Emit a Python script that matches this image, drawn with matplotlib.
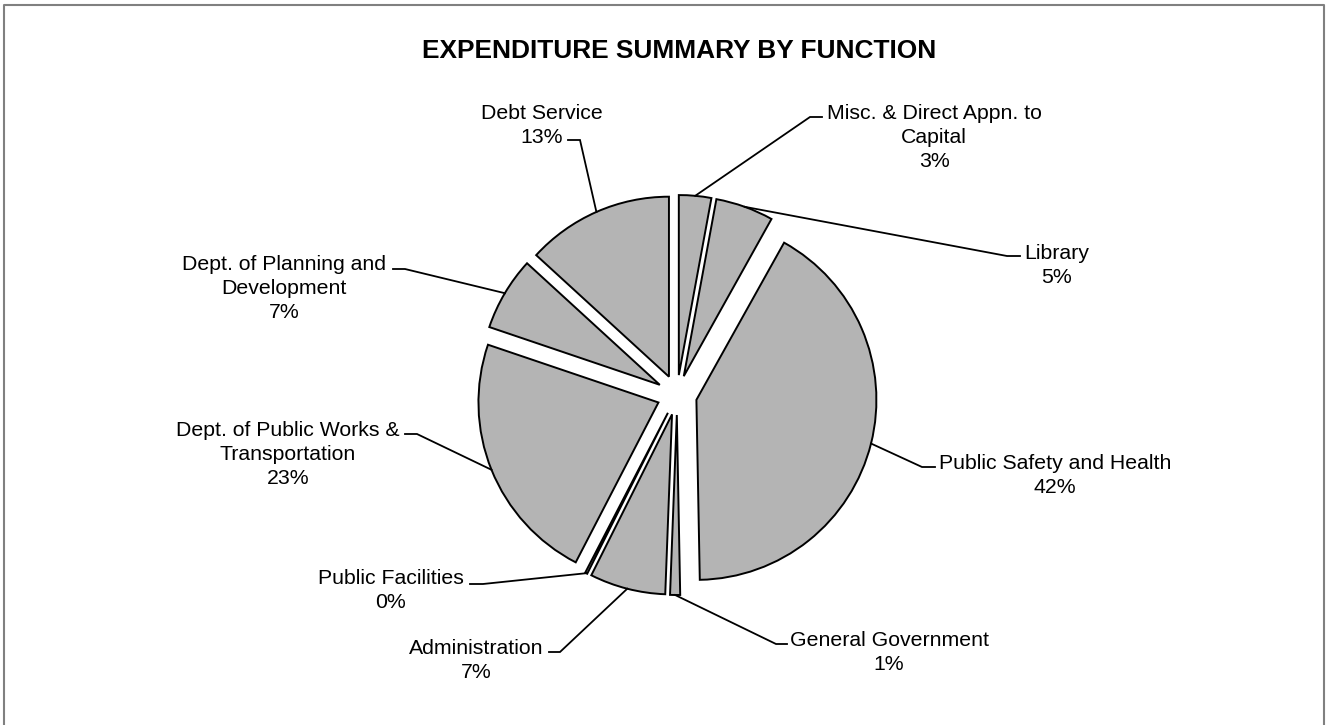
import matplotlib
matplotlib.use("Agg")
import matplotlib.pyplot as plt
import numpy as np

W, H = 1326, 725

# 지출 항목 (시계방향, 12시 방향부터)
categories = [
    "Misc. & Direct Appn. to\nCapital",
    "Library",
    "Public Safety and Health",
    "General Government",
    "Administration",
    "Public Facilities",
    "Dept. of Public Works &\nTransportation",
    "Dept. of Planning and\nDevelopment",
    "Debt Service",
]
shares = [2.9, 5.2, 41.6, 0.9, 6.8, 0.2, 22.6, 6.6, 13.2]

# 라벨 배치 (픽셀 좌표): 텍스트 중심 x, 첫 줄 중심 y, 지시선 꺾임 x(파이 쪽), 꺾임 x(글자 쪽), 꺾임 y
label_x = [934, 1057, 1055, 889, 476, 391, 288, 284, 542]
label_y = [111, 251, 461, 638, 646, 577, 428, 262, 111]
tick_in = [810, 1007, 922, 776, 560, 483, 417, 405, 580]
tick_out = [822, 1020, 935, 787, 549, 470, 405, 393, 568]
tick_y = [117, 256, 467, 644, 652, 584, 434, 269, 140]

plt.rcParams["font.family"] = ["Liberation Sans", "DejaVu Sans"]

fig = plt.figure(figsize=(W / 100, H / 100), dpi=100)
ax = fig.add_axes([0, 0, 1, 1])

# 파이 그리기 - y축을 뒤집어서 화면 좌표 그대로 사용
wedges, _ = ax.pie(
    shares,
    startangle=-90,
    counterclock=True,
    center=(677, 395),
    radius=180,
    explode=[20] * len(shares),
    colors=["#b4b4b4"] * len(shares),
    wedgeprops=dict(edgecolor="black", linewidth=1.4),
)
ax.set_xlim(0, W)
ax.set_ylim(H, 0)
ax.set_aspect("equal")
ax.axis("off")

line_h = 24
for i, w in enumerate(wedges):
    # 조각 바깥쪽 호의 가운데 점
    mid = np.deg2rad((w.theta1 + w.theta2) / 2)
    px = w.center[0] + w.r * np.cos(mid)
    py = w.center[1] + w.r * np.sin(mid)
    ax.plot([tick_out[i], tick_in[i], px], [tick_y[i], tick_y[i], py],
            color="black", lw=1.3, solid_joinstyle="miter")

    lines = categories[i].split("\n") + [f"{shares[i]:.0f}%"]
    for k, txt in enumerate(lines):
        ax.text(label_x[i], label_y[i] + 7.5 + k * line_h, txt,
                ha="center", va="baseline", fontsize=15.3, color="black")

ax.text(679, 58, "EXPENDITURE SUMMARY BY FUNCTION", ha="center", va="baseline",
        fontsize=18.9, fontweight="bold", color="black")

# 바깥 테두리
ax.plot([3.5, 3.5, 1324, 1324], [726, 5, 5, 726], color="#808080", lw=1.5,
        clip_on=False)

fig.savefig("out.png", dpi=100)
